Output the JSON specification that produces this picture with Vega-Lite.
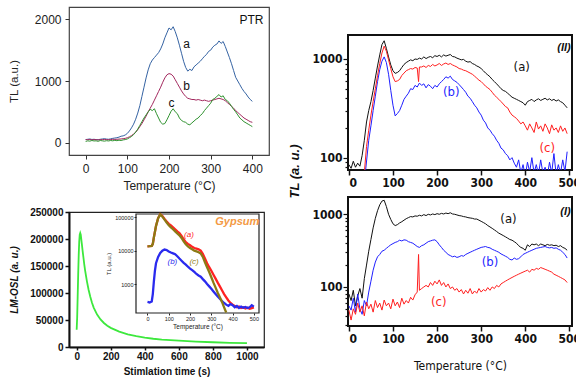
{
 "$schema": "https://vega.github.io/schema/vega-lite/v6.json",
 "background": "white",
 "padding": {"left": 7, "top": 6, "right": 0, "bottom": 0},
 "config": {
  "font": "Liberation Sans",
  "view": {"stroke": "#333", "strokeWidth": 1.2},
  "axis": {"grid": false, "domainColor": "#333", "tickColor": "#333", "labelColor": "#222", "titleColor": "#222"}
 },
 "datasets": {
  "tl": [
   {"s":"a","x":0,"y":50},{"s":"a","x":5,"y":55},{"s":"a","x":10,"y":60},{"s":"a","x":15,"y":52},{"s":"a","x":20,"y":55},{"s":"a","x":25,"y":50},{"s":"a","x":30,"y":48},{"s":"a","x":35,"y":55},{"s":"a","x":40,"y":60},{"s":"a","x":45,"y":65},{"s":"a","x":50,"y":58},{"s":"a","x":55,"y":55},{"s":"a","x":60,"y":62},{"s":"a","x":65,"y":70},{"s":"a","x":70,"y":75},{"s":"a","x":75,"y":80},{"s":"a","x":80,"y":90},{"s":"a","x":85,"y":105},{"s":"a","x":90,"y":110},{"s":"a","x":95,"y":125},{"s":"a","x":100,"y":150},{"s":"a","x":105,"y":190},{"s":"a","x":110,"y":240},{"s":"a","x":115,"y":300},{"s":"a","x":120,"y":380},{"s":"a","x":125,"y":480},{"s":"a","x":130,"y":600},{"s":"a","x":135,"y":750},{"s":"a","x":140,"y":900},{"s":"a","x":145,"y":1050},{"s":"a","x":150,"y":1180},{"s":"a","x":155,"y":1280},{"s":"a","x":160,"y":1340},{"s":"a","x":165,"y":1380},{"s":"a","x":170,"y":1420},{"s":"a","x":175,"y":1460},{"s":"a","x":180,"y":1520},{"s":"a","x":185,"y":1600},{"s":"a","x":190,"y":1700},{"s":"a","x":195,"y":1780},{"s":"a","x":200,"y":1860},{"s":"a","x":205,"y":1830},{"s":"a","x":210,"y":1880},{"s":"a","x":215,"y":1800},{"s":"a","x":220,"y":1700},{"s":"a","x":225,"y":1580},{"s":"a","x":230,"y":1450},{"s":"a","x":235,"y":1320},{"s":"a","x":240,"y":1220},{"s":"a","x":245,"y":1160},{"s":"a","x":250,"y":1190},{"s":"a","x":255,"y":1170},{"s":"a","x":260,"y":1230},{"s":"a","x":265,"y":1260},{"s":"a","x":270,"y":1290},{"s":"a","x":275,"y":1320},{"s":"a","x":280,"y":1360},{"s":"a","x":285,"y":1400},{"s":"a","x":290,"y":1430},{"s":"a","x":295,"y":1480},{"s":"a","x":300,"y":1500},{"s":"a","x":305,"y":1550},{"s":"a","x":310,"y":1580},{"s":"a","x":315,"y":1600},{"s":"a","x":320,"y":1650},{"s":"a","x":325,"y":1610},{"s":"a","x":330,"y":1640},{"s":"a","x":335,"y":1560},{"s":"a","x":340,"y":1470},{"s":"a","x":345,"y":1380},{"s":"a","x":350,"y":1280},{"s":"a","x":355,"y":1170},{"s":"a","x":360,"y":1060},{"s":"a","x":365,"y":1000},{"s":"a","x":370,"y":940},{"s":"a","x":375,"y":880},{"s":"a","x":380,"y":830},{"s":"a","x":385,"y":790},{"s":"a","x":390,"y":740},{"s":"a","x":395,"y":700},{"s":"a","x":400,"y":670},
   {"s":"b","x":0,"y":50},{"s":"b","x":5,"y":48},{"s":"b","x":10,"y":52},{"s":"b","x":15,"y":45},{"s":"b","x":20,"y":50},{"s":"b","x":25,"y":48},{"s":"b","x":30,"y":45},{"s":"b","x":35,"y":50},{"s":"b","x":40,"y":48},{"s":"b","x":45,"y":52},{"s":"b","x":50,"y":50},{"s":"b","x":55,"y":48},{"s":"b","x":60,"y":50},{"s":"b","x":65,"y":55},{"s":"b","x":70,"y":52},{"s":"b","x":75,"y":55},{"s":"b","x":80,"y":58},{"s":"b","x":85,"y":60},{"s":"b","x":90,"y":65},{"s":"b","x":95,"y":70},{"s":"b","x":100,"y":80},{"s":"b","x":105,"y":95},{"s":"b","x":110,"y":115},{"s":"b","x":115,"y":140},{"s":"b","x":120,"y":170},{"s":"b","x":125,"y":210},{"s":"b","x":130,"y":260},{"s":"b","x":135,"y":310},{"s":"b","x":140,"y":370},{"s":"b","x":145,"y":430},{"s":"b","x":150,"y":500},{"s":"b","x":155,"y":560},{"s":"b","x":160,"y":620},{"s":"b","x":165,"y":690},{"s":"b","x":170,"y":760},{"s":"b","x":175,"y":830},{"s":"b","x":180,"y":900},{"s":"b","x":185,"y":980},{"s":"b","x":190,"y":1050},{"s":"b","x":195,"y":1100},{"s":"b","x":200,"y":1120},{"s":"b","x":205,"y":1110},{"s":"b","x":210,"y":1080},{"s":"b","x":215,"y":1020},{"s":"b","x":220,"y":960},{"s":"b","x":225,"y":900},{"s":"b","x":230,"y":840},{"s":"b","x":235,"y":790},{"s":"b","x":240,"y":750},{"s":"b","x":245,"y":720},{"s":"b","x":250,"y":710},{"s":"b","x":255,"y":700},{"s":"b","x":260,"y":700},{"s":"b","x":265,"y":690},{"s":"b","x":270,"y":700},{"s":"b","x":275,"y":690},{"s":"b","x":280,"y":680},{"s":"b","x":285,"y":690},{"s":"b","x":290,"y":680},{"s":"b","x":295,"y":670},{"s":"b","x":300,"y":680},{"s":"b","x":305,"y":690},{"s":"b","x":310,"y":700},{"s":"b","x":315,"y":710},{"s":"b","x":320,"y":720},{"s":"b","x":325,"y":710},{"s":"b","x":330,"y":700},{"s":"b","x":335,"y":680},{"s":"b","x":340,"y":650},{"s":"b","x":345,"y":620},{"s":"b","x":350,"y":590},{"s":"b","x":355,"y":560},{"s":"b","x":360,"y":520},{"s":"b","x":365,"y":490},{"s":"b","x":370,"y":460},{"s":"b","x":375,"y":430},{"s":"b","x":380,"y":400},{"s":"b","x":385,"y":380},{"s":"b","x":390,"y":360},{"s":"b","x":395,"y":340},{"s":"b","x":400,"y":330},
   {"s":"c","x":0,"y":20},{"s":"c","x":5,"y":30},{"s":"c","x":10,"y":25},{"s":"c","x":15,"y":35},{"s":"c","x":20,"y":28},{"s":"c","x":25,"y":30},{"s":"c","x":30,"y":22},{"s":"c","x":35,"y":35},{"s":"c","x":40,"y":30},{"s":"c","x":45,"y":25},{"s":"c","x":50,"y":32},{"s":"c","x":55,"y":28},{"s":"c","x":60,"y":35},{"s":"c","x":65,"y":30},{"s":"c","x":70,"y":38},{"s":"c","x":75,"y":32},{"s":"c","x":80,"y":40},{"s":"c","x":85,"y":35},{"s":"c","x":90,"y":45},{"s":"c","x":95,"y":50},{"s":"c","x":100,"y":60},{"s":"c","x":105,"y":80},{"s":"c","x":110,"y":100},{"s":"c","x":115,"y":130},{"s":"c","x":120,"y":170},{"s":"c","x":125,"y":220},{"s":"c","x":130,"y":280},{"s":"c","x":135,"y":340},{"s":"c","x":140,"y":400},{"s":"c","x":145,"y":450},{"s":"c","x":150,"y":500},{"s":"c","x":155,"y":540},{"s":"c","x":160,"y":520},{"s":"c","x":165,"y":550},{"s":"c","x":170,"y":470},{"s":"c","x":175,"y":400},{"s":"c","x":180,"y":330},{"s":"c","x":185,"y":300},{"s":"c","x":190,"y":310},{"s":"c","x":195,"y":370},{"s":"c","x":200,"y":440},{"s":"c","x":205,"y":510},{"s":"c","x":210,"y":550},{"s":"c","x":215,"y":500},{"s":"c","x":220,"y":470},{"s":"c","x":225,"y":400},{"s":"c","x":230,"y":360},{"s":"c","x":235,"y":340},{"s":"c","x":240,"y":330},{"s":"c","x":245,"y":300},{"s":"c","x":250,"y":290},{"s":"c","x":255,"y":320},{"s":"c","x":260,"y":350},{"s":"c","x":265,"y":380},{"s":"c","x":270,"y":400},{"s":"c","x":275,"y":440},{"s":"c","x":280,"y":470},{"s":"c","x":285,"y":520},{"s":"c","x":290,"y":560},{"s":"c","x":295,"y":600},{"s":"c","x":300,"y":640},{"s":"c","x":305,"y":700},{"s":"c","x":310,"y":720},{"s":"c","x":315,"y":750},{"s":"c","x":320,"y":780},{"s":"c","x":325,"y":740},{"s":"c","x":330,"y":760},{"s":"c","x":335,"y":700},{"s":"c","x":340,"y":680},{"s":"c","x":345,"y":640},{"s":"c","x":350,"y":590},{"s":"c","x":355,"y":540},{"s":"c","x":360,"y":500},{"s":"c","x":365,"y":450},{"s":"c","x":370,"y":400},{"s":"c","x":375,"y":370},{"s":"c","x":380,"y":340},{"s":"c","x":385,"y":320},{"s":"c","x":390,"y":300},{"s":"c","x":395,"y":280},{"s":"c","x":400,"y":260}
  ],
  "tlLab": [{"t":"a","x":242,"y":1600},{"t":"b","x":242,"y":918},{"t":"c","x":206,"y":643}],
  "osl": [
   {"t":0,"v":32000},{"t":3,"v":55000},{"t":6,"v":95000},{"t":9,"v":135000},{"t":12,"v":170000},{"t":15,"v":195000},{"t":18,"v":208000},{"t":21,"v":211000},{"t":24,"v":208000},{"t":27,"v":200000},{"t":30,"v":192000},{"t":35,"v":178000},{"t":40,"v":165000},{"t":45,"v":152000},{"t":50,"v":141000},{"t":60,"v":122000},{"t":70,"v":106000},{"t":80,"v":93000},{"t":90,"v":82000},{"t":100,"v":73000},{"t":120,"v":60000},{"t":140,"v":51000},{"t":160,"v":44500},{"t":180,"v":39500},{"t":200,"v":35500},{"t":250,"v":28500},{"t":300,"v":23500},{"t":350,"v":20000},{"t":400,"v":17200},{"t":450,"v":15300},{"t":500,"v":13800},{"t":600,"v":11700},{"t":700,"v":10000},{"t":800,"v":8800},{"t":900,"v":7800},{"t":1000,"v":7000}
  ],
  "gyp": [
   {"s":"a","x":0,"y":13500},{"s":"a","x":10,"y":13600},{"s":"a","x":20,"y":13800},{"s":"a","x":25,"y":16000},{"s":"a","x":30,"y":25000},{"s":"a","x":40,"y":55000},{"s":"a","x":50,"y":95000},{"s":"a","x":60,"y":124000},{"s":"a","x":70,"y":110000},{"s":"a","x":80,"y":90000},{"s":"a","x":90,"y":75000},{"s":"a","x":100,"y":64000},{"s":"a","x":110,"y":57000},{"s":"a","x":120,"y":50000},{"s":"a","x":130,"y":44000},{"s":"a","x":140,"y":38000},{"s":"a","x":150,"y":34000},{"s":"a","x":160,"y":28000},{"s":"a","x":170,"y":22000},{"s":"a","x":180,"y":18000},{"s":"a","x":190,"y":16000},{"s":"a","x":200,"y":14500},{"s":"a","x":210,"y":13000},{"s":"a","x":220,"y":12000},{"s":"a","x":230,"y":11500},{"s":"a","x":240,"y":11000},{"s":"a","x":250,"y":10000},{"s":"a","x":260,"y":8000},{"s":"a","x":270,"y":5800},{"s":"a","x":280,"y":4200},{"s":"a","x":290,"y":3200},{"s":"a","x":300,"y":2500},{"s":"a","x":310,"y":1900},{"s":"a","x":320,"y":1450},{"s":"a","x":330,"y":1100},{"s":"a","x":340,"y":850},{"s":"a","x":350,"y":650},{"s":"a","x":360,"y":500},{"s":"a","x":370,"y":400},{"s":"a","x":380,"y":320},{"s":"a","x":390,"y":270},{"s":"a","x":400,"y":240},{"s":"a","x":410,"y":220},{"s":"a","x":420,"y":200},{"s":"a","x":430,"y":210},{"s":"a","x":440,"y":190},{"s":"a","x":450,"y":200},{"s":"a","x":460,"y":185},{"s":"a","x":470,"y":195},{"s":"a","x":480,"y":180},{"s":"a","x":490,"y":190},{"s":"a","x":500,"y":200},
   {"s":"b","x":0,"y":290},{"s":"b","x":10,"y":280},{"s":"b","x":20,"y":300},{"s":"b","x":25,"y":500},{"s":"b","x":30,"y":1200},{"s":"b","x":35,"y":2500},{"s":"b","x":40,"y":4200},{"s":"b","x":50,"y":6500},{"s":"b","x":60,"y":8500},{"s":"b","x":70,"y":10000},{"s":"b","x":80,"y":10800},{"s":"b","x":90,"y":10500},{"s":"b","x":100,"y":9500},{"s":"b","x":110,"y":8800},{"s":"b","x":120,"y":8300},{"s":"b","x":130,"y":7800},{"s":"b","x":140,"y":6800},{"s":"b","x":150,"y":5800},{"s":"b","x":160,"y":5000},{"s":"b","x":170,"y":4300},{"s":"b","x":180,"y":3800},{"s":"b","x":190,"y":3300},{"s":"b","x":200,"y":2900},{"s":"b","x":210,"y":2600},{"s":"b","x":220,"y":2300},{"s":"b","x":230,"y":2000},{"s":"b","x":240,"y":1800},{"s":"b","x":250,"y":1650},{"s":"b","x":260,"y":1400},{"s":"b","x":270,"y":1200},{"s":"b","x":280,"y":1000},{"s":"b","x":290,"y":850},{"s":"b","x":300,"y":720},{"s":"b","x":310,"y":600},{"s":"b","x":320,"y":500},{"s":"b","x":330,"y":420},{"s":"b","x":340,"y":360},{"s":"b","x":350,"y":310},{"s":"b","x":360,"y":270},{"s":"b","x":370,"y":240},{"s":"b","x":380,"y":220},{"s":"b","x":390,"y":250},{"s":"b","x":400,"y":230},{"s":"b","x":410,"y":200},{"s":"b","x":420,"y":220},{"s":"b","x":430,"y":190},{"s":"b","x":440,"y":210},{"s":"b","x":450,"y":195},{"s":"b","x":460,"y":205},{"s":"b","x":470,"y":190},{"s":"b","x":480,"y":200},{"s":"b","x":490,"y":230},{"s":"b","x":500,"y":210},
   {"s":"c","x":0,"y":13500},{"s":"c","x":10,"y":13600},{"s":"c","x":20,"y":13800},{"s":"c","x":25,"y":16000},{"s":"c","x":30,"y":25000},{"s":"c","x":40,"y":55000},{"s":"c","x":50,"y":95000},{"s":"c","x":60,"y":122000},{"s":"c","x":70,"y":105000},{"s":"c","x":80,"y":85000},{"s":"c","x":90,"y":70000},{"s":"c","x":100,"y":58000},{"s":"c","x":110,"y":50000},{"s":"c","x":120,"y":44000},{"s":"c","x":130,"y":38000},{"s":"c","x":140,"y":33000},{"s":"c","x":150,"y":29000},{"s":"c","x":160,"y":24000},{"s":"c","x":170,"y":19000},{"s":"c","x":180,"y":15500},{"s":"c","x":190,"y":13500},{"s":"c","x":200,"y":12000},{"s":"c","x":210,"y":11000},{"s":"c","x":220,"y":10000},{"s":"c","x":230,"y":9500},{"s":"c","x":240,"y":9000},{"s":"c","x":250,"y":8300},{"s":"c","x":260,"y":6500},{"s":"c","x":270,"y":4500},{"s":"c","x":280,"y":3200},{"s":"c","x":290,"y":2300},{"s":"c","x":300,"y":1600},{"s":"c","x":310,"y":1100},{"s":"c","x":320,"y":780},{"s":"c","x":330,"y":550},{"s":"c","x":340,"y":400},{"s":"c","x":350,"y":290},{"s":"c","x":360,"y":200},{"s":"c","x":370,"y":140}
  ],
  "gypLab": [{"t":"(a)","s":"a","x":195,"y":29500},{"t":"(b)","s":"b","x":117,"y":4700},{"t":"(c)","s":"c","x":219,"y":4700}],
  "r2": [
   {"s":"a","x":0,"y":85},{"s":"a","x":5,"y":78},{"s":"a","x":10,"y":92},{"s":"a","x":15,"y":80},{"s":"a","x":20,"y":88},{"s":"a","x":25,"y":82},{"s":"a","x":30,"y":105},{"s":"a","x":35,"y":150},{"s":"a","x":40,"y":230},{"s":"a","x":45,"y":300},{"s":"a","x":50,"y":370},{"s":"a","x":55,"y":480},{"s":"a","x":60,"y":640},{"s":"a","x":65,"y":850},{"s":"a","x":70,"y":1100},{"s":"a","x":75,"y":1400},{"s":"a","x":80,"y":1530},{"s":"a","x":85,"y":1280},{"s":"a","x":90,"y":1050},{"s":"a","x":95,"y":870},{"s":"a","x":100,"y":760},{"s":"a","x":105,"y":715},{"s":"a","x":110,"y":730},{"s":"a","x":115,"y":760},{"s":"a","x":120,"y":820},{"s":"a","x":125,"y":880},{"s":"a","x":130,"y":920},{"s":"a","x":135,"y":950},{"s":"a","x":140,"y":980},{"s":"a","x":145,"y":960},{"s":"a","x":150,"y":1000},{"s":"a","x":155,"y":990},{"s":"a","x":160,"y":1020},{"s":"a","x":165,"y":1000},{"s":"a","x":170,"y":1050},{"s":"a","x":175,"y":1010},{"s":"a","x":180,"y":1040},{"s":"a","x":185,"y":1060},{"s":"a","x":190,"y":1030},{"s":"a","x":195,"y":1080},{"s":"a","x":200,"y":1060},{"s":"a","x":205,"y":1090},{"s":"a","x":210,"y":1050},{"s":"a","x":215,"y":1100},{"s":"a","x":220,"y":1070},{"s":"a","x":225,"y":1090},{"s":"a","x":230,"y":1110},{"s":"a","x":235,"y":1060},{"s":"a","x":240,"y":1050},{"s":"a","x":245,"y":1020},{"s":"a","x":250,"y":1000},{"s":"a","x":255,"y":980},{"s":"a","x":260,"y":990},{"s":"a","x":265,"y":950},{"s":"a","x":270,"y":930},{"s":"a","x":275,"y":940},{"s":"a","x":280,"y":900},{"s":"a","x":285,"y":880},{"s":"a","x":290,"y":850},{"s":"a","x":295,"y":830},{"s":"a","x":300,"y":800},{"s":"a","x":305,"y":760},{"s":"a","x":310,"y":720},{"s":"a","x":315,"y":690},{"s":"a","x":320,"y":660},{"s":"a","x":325,"y":620},{"s":"a","x":330,"y":590},{"s":"a","x":335,"y":560},{"s":"a","x":340,"y":530},{"s":"a","x":345,"y":500},{"s":"a","x":350,"y":480},{"s":"a","x":355,"y":470},{"s":"a","x":360,"y":450},{"s":"a","x":365,"y":430},{"s":"a","x":370,"y":410},{"s":"a","x":375,"y":400},{"s":"a","x":380,"y":390},{"s":"a","x":385,"y":380},{"s":"a","x":390,"y":370},{"s":"a","x":395,"y":360},{"s":"a","x":400,"y":340},{"s":"a","x":405,"y":370},{"s":"a","x":410,"y":380},{"s":"a","x":415,"y":390},{"s":"a","x":420,"y":370},{"s":"a","x":425,"y":385},{"s":"a","x":430,"y":395},{"s":"a","x":435,"y":380},{"s":"a","x":440,"y":390},{"s":"a","x":445,"y":400},{"s":"a","x":450,"y":385},{"s":"a","x":455,"y":395},{"s":"a","x":460,"y":380},{"s":"a","x":465,"y":390},{"s":"a","x":470,"y":375},{"s":"a","x":475,"y":385},{"s":"a","x":480,"y":370},{"s":"a","x":485,"y":360},{"s":"a","x":490,"y":340},{"s":"a","x":495,"y":320},
   {"s":"b","x":38,"y":75},{"s":"b","x":45,"y":150},{"s":"b","x":50,"y":210},{"s":"b","x":55,"y":300},{"s":"b","x":60,"y":420},{"s":"b","x":65,"y":590},{"s":"b","x":70,"y":780},{"s":"b","x":75,"y":950},{"s":"b","x":80,"y":1050},{"s":"b","x":85,"y":920},{"s":"b","x":90,"y":700},{"s":"b","x":95,"y":480},{"s":"b","x":100,"y":340},{"s":"b","x":105,"y":265},{"s":"b","x":110,"y":280},{"s":"b","x":115,"y":300},{"s":"b","x":120,"y":340},{"s":"b","x":125,"y":390},{"s":"b","x":130,"y":420},{"s":"b","x":135,"y":450},{"s":"b","x":140,"y":500},{"s":"b","x":145,"y":490},{"s":"b","x":150,"y":540},{"s":"b","x":155,"y":520},{"s":"b","x":160,"y":570},{"s":"b","x":165,"y":540},{"s":"b","x":170,"y":560},{"s":"b","x":175,"y":510},{"s":"b","x":180,"y":550},{"s":"b","x":185,"y":530},{"s":"b","x":190,"y":500},{"s":"b","x":195,"y":540},{"s":"b","x":200,"y":520},{"s":"b","x":205,"y":560},{"s":"b","x":210,"y":590},{"s":"b","x":215,"y":620},{"s":"b","x":220,"y":660},{"s":"b","x":225,"y":640},{"s":"b","x":230,"y":670},{"s":"b","x":235,"y":620},{"s":"b","x":240,"y":600},{"s":"b","x":245,"y":580},{"s":"b","x":250,"y":550},{"s":"b","x":255,"y":520},{"s":"b","x":260,"y":490},{"s":"b","x":265,"y":460},{"s":"b","x":270,"y":420},{"s":"b","x":275,"y":400},{"s":"b","x":280,"y":370},{"s":"b","x":285,"y":340},{"s":"b","x":290,"y":320},{"s":"b","x":295,"y":290},{"s":"b","x":300,"y":270},{"s":"b","x":305,"y":240},{"s":"b","x":310,"y":225},{"s":"b","x":315,"y":200},{"s":"b","x":320,"y":190},{"s":"b","x":325,"y":175},{"s":"b","x":330,"y":165},{"s":"b","x":335,"y":150},{"s":"b","x":340,"y":140},{"s":"b","x":345,"y":125},{"s":"b","x":350,"y":120},{"s":"b","x":355,"y":110},{"s":"b","x":360,"y":105},{"s":"b","x":365,"y":95},{"s":"b","x":370,"y":100},{"s":"b","x":375,"y":88},{"s":"b","x":380,"y":80},{"s":"b","x":385,"y":95},{"s":"b","x":390,"y":70},{"s":"b","x":395,"y":85},{"s":"b","x":400,"y":65},{"s":"b","x":405,"y":90},{"s":"b","x":410,"y":72},{"s":"b","x":415,"y":100},{"s":"b","x":420,"y":70},{"s":"b","x":425,"y":85},{"s":"b","x":430,"y":68},{"s":"b","x":435,"y":95},{"s":"b","x":440,"y":70},{"s":"b","x":445,"y":80},{"s":"b","x":450,"y":65},{"s":"b","x":455,"y":90},{"s":"b","x":460,"y":70},{"s":"b","x":465,"y":110},{"s":"b","x":470,"y":68},{"s":"b","x":475,"y":85},{"s":"b","x":480,"y":70},{"s":"b","x":485,"y":95},{"s":"b","x":490,"y":72},{"s":"b","x":495,"y":115},
   {"s":"c","x":35,"y":70},{"s":"c","x":40,"y":130},{"s":"c","x":45,"y":190},{"s":"c","x":50,"y":270},{"s":"c","x":55,"y":370},{"s":"c","x":60,"y":500},{"s":"c","x":65,"y":680},{"s":"c","x":70,"y":900},{"s":"c","x":75,"y":1150},{"s":"c","x":80,"y":1350},{"s":"c","x":85,"y":1200},{"s":"c","x":90,"y":980},{"s":"c","x":95,"y":800},{"s":"c","x":100,"y":660},{"s":"c","x":105,"y":590},{"s":"c","x":110,"y":600},{"s":"c","x":115,"y":620},{"s":"c","x":120,"y":680},{"s":"c","x":125,"y":720},{"s":"c","x":130,"y":760},{"s":"c","x":135,"y":780},{"s":"c","x":140,"y":800},{"s":"c","x":145,"y":790},{"s":"c","x":150,"y":820},{"s":"c","x":155,"y":810},{"s":"c","x":158,"y":590},{"s":"c","x":160,"y":830},{"s":"c","x":165,"y":830},{"s":"c","x":170,"y":850},{"s":"c","x":175,"y":820},{"s":"c","x":180,"y":860},{"s":"c","x":185,"y":840},{"s":"c","x":190,"y":880},{"s":"c","x":195,"y":850},{"s":"c","x":200,"y":870},{"s":"c","x":205,"y":900},{"s":"c","x":210,"y":860},{"s":"c","x":215,"y":890},{"s":"c","x":220,"y":910},{"s":"c","x":225,"y":880},{"s":"c","x":230,"y":900},{"s":"c","x":235,"y":870},{"s":"c","x":240,"y":850},{"s":"c","x":245,"y":830},{"s":"c","x":250,"y":800},{"s":"c","x":255,"y":790},{"s":"c","x":260,"y":770},{"s":"c","x":265,"y":760},{"s":"c","x":270,"y":740},{"s":"c","x":275,"y":720},{"s":"c","x":280,"y":700},{"s":"c","x":285,"y":670},{"s":"c","x":290,"y":640},{"s":"c","x":295,"y":610},{"s":"c","x":300,"y":590},{"s":"c","x":305,"y":560},{"s":"c","x":310,"y":530},{"s":"c","x":315,"y":510},{"s":"c","x":320,"y":490},{"s":"c","x":325,"y":460},{"s":"c","x":330,"y":430},{"s":"c","x":335,"y":410},{"s":"c","x":340,"y":390},{"s":"c","x":345,"y":370},{"s":"c","x":350,"y":350},{"s":"c","x":355,"y":330},{"s":"c","x":360,"y":320},{"s":"c","x":365,"y":290},{"s":"c","x":370,"y":270},{"s":"c","x":375,"y":260},{"s":"c","x":380,"y":250},{"s":"c","x":385,"y":235},{"s":"c","x":390,"y":220},{"s":"c","x":395,"y":230},{"s":"c","x":400,"y":210},{"s":"c","x":405,"y":190},{"s":"c","x":410,"y":220},{"s":"c","x":415,"y":200},{"s":"c","x":420,"y":180},{"s":"c","x":425,"y":230},{"s":"c","x":430,"y":195},{"s":"c","x":435,"y":210},{"s":"c","x":440,"y":185},{"s":"c","x":445,"y":220},{"s":"c","x":450,"y":200},{"s":"c","x":455,"y":175},{"s":"c","x":460,"y":215},{"s":"c","x":465,"y":190},{"s":"c","x":470,"y":200},{"s":"c","x":475,"y":180},{"s":"c","x":480,"y":210},{"s":"c","x":485,"y":185},{"s":"c","x":490,"y":200},{"s":"c","x":495,"y":175}
  ],
  "r2Lab": [{"t":"(a)","s":"a","x":392,"y":837},{"t":"(b)","s":"b","x":232,"y":462},{"t":"(c)","s":"c","x":450,"y":126}],
  "r1": [
   {"s":"a","x":0,"y":80},{"s":"a","x":5,"y":65},{"s":"a","x":10,"y":90},{"s":"a","x":15,"y":55},{"s":"a","x":20,"y":75},{"s":"a","x":25,"y":95},{"s":"a","x":30,"y":70},{"s":"a","x":35,"y":130},{"s":"a","x":40,"y":200},{"s":"a","x":45,"y":310},{"s":"a","x":50,"y":450},{"s":"a","x":55,"y":650},{"s":"a","x":60,"y":880},{"s":"a","x":65,"y":1120},{"s":"a","x":70,"y":1350},{"s":"a","x":75,"y":1520},{"s":"a","x":80,"y":1560},{"s":"a","x":85,"y":1280},{"s":"a","x":90,"y":1000},{"s":"a","x":95,"y":850},{"s":"a","x":100,"y":740},{"s":"a","x":105,"y":700},{"s":"a","x":110,"y":720},{"s":"a","x":115,"y":760},{"s":"a","x":120,"y":790},{"s":"a","x":125,"y":830},{"s":"a","x":130,"y":870},{"s":"a","x":135,"y":900},{"s":"a","x":140,"y":930},{"s":"a","x":145,"y":920},{"s":"a","x":150,"y":950},{"s":"a","x":155,"y":940},{"s":"a","x":160,"y":970},{"s":"a","x":165,"y":950},{"s":"a","x":170,"y":990},{"s":"a","x":175,"y":960},{"s":"a","x":180,"y":1000},{"s":"a","x":185,"y":980},{"s":"a","x":190,"y":1010},{"s":"a","x":195,"y":990},{"s":"a","x":200,"y":1020},{"s":"a","x":205,"y":1000},{"s":"a","x":210,"y":1030},{"s":"a","x":215,"y":1010},{"s":"a","x":220,"y":1040},{"s":"a","x":225,"y":1020},{"s":"a","x":230,"y":1050},{"s":"a","x":235,"y":1010},{"s":"a","x":240,"y":1000},{"s":"a","x":245,"y":980},{"s":"a","x":250,"y":960},{"s":"a","x":255,"y":950},{"s":"a","x":260,"y":930},{"s":"a","x":265,"y":920},{"s":"a","x":270,"y":900},{"s":"a","x":275,"y":890},{"s":"a","x":280,"y":880},{"s":"a","x":285,"y":860},{"s":"a","x":290,"y":860},{"s":"a","x":295,"y":830},{"s":"a","x":300,"y":800},{"s":"a","x":305,"y":770},{"s":"a","x":310,"y":740},{"s":"a","x":315,"y":700},{"s":"a","x":320,"y":670},{"s":"a","x":325,"y":640},{"s":"a","x":330,"y":610},{"s":"a","x":335,"y":580},{"s":"a","x":340,"y":550},{"s":"a","x":345,"y":530},{"s":"a","x":350,"y":510},{"s":"a","x":355,"y":490},{"s":"a","x":360,"y":470},{"s":"a","x":365,"y":450},{"s":"a","x":370,"y":440},{"s":"a","x":375,"y":420},{"s":"a","x":380,"y":400},{"s":"a","x":385,"y":370},{"s":"a","x":390,"y":350},{"s":"a","x":395,"y":340},{"s":"a","x":400,"y":320},{"s":"a","x":405,"y":380},{"s":"a","x":410,"y":360},{"s":"a","x":415,"y":390},{"s":"a","x":420,"y":380},{"s":"a","x":425,"y":390},{"s":"a","x":430,"y":370},{"s":"a","x":435,"y":390},{"s":"a","x":440,"y":380},{"s":"a","x":445,"y":370},{"s":"a","x":450,"y":385},{"s":"a","x":455,"y":375},{"s":"a","x":460,"y":380},{"s":"a","x":465,"y":370},{"s":"a","x":470,"y":375},{"s":"a","x":475,"y":360},{"s":"a","x":480,"y":370},{"s":"a","x":485,"y":350},{"s":"a","x":490,"y":340},{"s":"a","x":495,"y":320},
   {"s":"b","x":0,"y":55},{"s":"b","x":5,"y":48},{"s":"b","x":10,"y":70},{"s":"b","x":15,"y":45},{"s":"b","x":20,"y":80},{"s":"b","x":25,"y":50},{"s":"b","x":30,"y":42},{"s":"b","x":35,"y":65},{"s":"b","x":40,"y":55},{"s":"b","x":45,"y":85},{"s":"b","x":50,"y":120},{"s":"b","x":55,"y":170},{"s":"b","x":60,"y":220},{"s":"b","x":65,"y":260},{"s":"b","x":70,"y":280},{"s":"b","x":75,"y":310},{"s":"b","x":80,"y":320},{"s":"b","x":85,"y":340},{"s":"b","x":90,"y":360},{"s":"b","x":95,"y":380},{"s":"b","x":100,"y":395},{"s":"b","x":105,"y":410},{"s":"b","x":110,"y":420},{"s":"b","x":115,"y":440},{"s":"b","x":120,"y":430},{"s":"b","x":125,"y":445},{"s":"b","x":130,"y":440},{"s":"b","x":135,"y":420},{"s":"b","x":140,"y":410},{"s":"b","x":145,"y":400},{"s":"b","x":150,"y":380},{"s":"b","x":155,"y":360},{"s":"b","x":160,"y":350},{"s":"b","x":165,"y":370},{"s":"b","x":170,"y":380},{"s":"b","x":175,"y":400},{"s":"b","x":180,"y":420},{"s":"b","x":185,"y":430},{"s":"b","x":190,"y":440},{"s":"b","x":195,"y":445},{"s":"b","x":200,"y":420},{"s":"b","x":205,"y":380},{"s":"b","x":210,"y":350},{"s":"b","x":215,"y":320},{"s":"b","x":220,"y":300},{"s":"b","x":225,"y":280},{"s":"b","x":230,"y":270},{"s":"b","x":235,"y":260},{"s":"b","x":240,"y":265},{"s":"b","x":245,"y":255},{"s":"b","x":250,"y":260},{"s":"b","x":255,"y":270},{"s":"b","x":260,"y":265},{"s":"b","x":265,"y":280},{"s":"b","x":270,"y":290},{"s":"b","x":275,"y":300},{"s":"b","x":280,"y":310},{"s":"b","x":285,"y":320},{"s":"b","x":290,"y":330},{"s":"b","x":295,"y":340},{"s":"b","x":300,"y":350},{"s":"b","x":305,"y":355},{"s":"b","x":310,"y":360},{"s":"b","x":315,"y":350},{"s":"b","x":320,"y":345},{"s":"b","x":325,"y":330},{"s":"b","x":330,"y":320},{"s":"b","x":335,"y":310},{"s":"b","x":340,"y":300},{"s":"b","x":345,"y":285},{"s":"b","x":350,"y":275},{"s":"b","x":355,"y":265},{"s":"b","x":360,"y":255},{"s":"b","x":365,"y":240},{"s":"b","x":370,"y":235},{"s":"b","x":375,"y":250},{"s":"b","x":380,"y":240},{"s":"b","x":385,"y":245},{"s":"b","x":390,"y":260},{"s":"b","x":395,"y":280},{"s":"b","x":400,"y":290},{"s":"b","x":405,"y":300},{"s":"b","x":410,"y":310},{"s":"b","x":415,"y":320},{"s":"b","x":420,"y":330},{"s":"b","x":425,"y":340},{"s":"b","x":430,"y":345},{"s":"b","x":435,"y":350},{"s":"b","x":440,"y":355},{"s":"b","x":445,"y":360},{"s":"b","x":450,"y":350},{"s":"b","x":455,"y":345},{"s":"b","x":460,"y":350},{"s":"b","x":465,"y":340},{"s":"b","x":470,"y":345},{"s":"b","x":475,"y":330},{"s":"b","x":480,"y":320},{"s":"b","x":485,"y":300},{"s":"b","x":490,"y":280},{"s":"b","x":495,"y":250},
   {"s":"c","x":0,"y":48},{"s":"c","x":5,"y":35},{"s":"c","x":10,"y":50},{"s":"c","x":15,"y":42},{"s":"c","x":20,"y":60},{"s":"c","x":25,"y":45},{"s":"c","x":30,"y":55},{"s":"c","x":35,"y":40},{"s":"c","x":40,"y":62},{"s":"c","x":45,"y":50},{"s":"c","x":50,"y":58},{"s":"c","x":55,"y":45},{"s":"c","x":60,"y":65},{"s":"c","x":65,"y":52},{"s":"c","x":70,"y":60},{"s":"c","x":75,"y":48},{"s":"c","x":80,"y":66},{"s":"c","x":85,"y":55},{"s":"c","x":90,"y":60},{"s":"c","x":95,"y":50},{"s":"c","x":100,"y":68},{"s":"c","x":105,"y":55},{"s":"c","x":110,"y":62},{"s":"c","x":115,"y":52},{"s":"c","x":120,"y":70},{"s":"c","x":125,"y":58},{"s":"c","x":130,"y":65},{"s":"c","x":135,"y":60},{"s":"c","x":140,"y":72},{"s":"c","x":145,"y":66},{"s":"c","x":150,"y":78},{"s":"c","x":155,"y":85},{"s":"c","x":158,"y":280},{"s":"c","x":160,"y":90},{"s":"c","x":165,"y":95},{"s":"c","x":170,"y":100},{"s":"c","x":175,"y":105},{"s":"c","x":180,"y":100},{"s":"c","x":185,"y":115},{"s":"c","x":190,"y":105},{"s":"c","x":195,"y":120},{"s":"c","x":200,"y":110},{"s":"c","x":205,"y":125},{"s":"c","x":210,"y":105},{"s":"c","x":215,"y":115},{"s":"c","x":220,"y":100},{"s":"c","x":225,"y":110},{"s":"c","x":230,"y":95},{"s":"c","x":235,"y":100},{"s":"c","x":240,"y":90},{"s":"c","x":245,"y":95},{"s":"c","x":250,"y":85},{"s":"c","x":255,"y":92},{"s":"c","x":260,"y":80},{"s":"c","x":265,"y":90},{"s":"c","x":270,"y":82},{"s":"c","x":275,"y":95},{"s":"c","x":280,"y":80},{"s":"c","x":285,"y":88},{"s":"c","x":290,"y":82},{"s":"c","x":295,"y":95},{"s":"c","x":300,"y":85},{"s":"c","x":305,"y":92},{"s":"c","x":310,"y":88},{"s":"c","x":315,"y":98},{"s":"c","x":320,"y":90},{"s":"c","x":325,"y":100},{"s":"c","x":330,"y":95},{"s":"c","x":335,"y":105},{"s":"c","x":340,"y":100},{"s":"c","x":345,"y":110},{"s":"c","x":350,"y":115},{"s":"c","x":355,"y":120},{"s":"c","x":360,"y":125},{"s":"c","x":365,"y":130},{"s":"c","x":370,"y":135},{"s":"c","x":375,"y":140},{"s":"c","x":380,"y":145},{"s":"c","x":385,"y":150},{"s":"c","x":390,"y":155},{"s":"c","x":395,"y":160},{"s":"c","x":400,"y":165},{"s":"c","x":405,"y":170},{"s":"c","x":410,"y":160},{"s":"c","x":415,"y":175},{"s":"c","x":420,"y":170},{"s":"c","x":425,"y":180},{"s":"c","x":430,"y":175},{"s":"c","x":435,"y":185},{"s":"c","x":440,"y":180},{"s":"c","x":445,"y":175},{"s":"c","x":450,"y":170},{"s":"c","x":455,"y":165},{"s":"c","x":460,"y":160},{"s":"c","x":465,"y":150},{"s":"c","x":470,"y":145},{"s":"c","x":475,"y":140},{"s":"c","x":480,"y":135},{"s":"c","x":485,"y":130},{"s":"c","x":490,"y":125},{"s":"c","x":495,"y":115}
  ],
  "r1Lab": [{"t":"(a)","s":"a","x":362,"y":872},{"t":"(b)","s":"b","x":320,"y":221},{"t":"(c)","s":"c","x":204,"y":62}]
 },
 "spacing": 17,
 "resolve": {"scale": {"color": "independent"}},
 "hconcat": [
  {
   "spacing": 57,
   "bounds": "flush",
   "resolve": {"scale": {"color": "independent"}},
   "vconcat": [
    {
     "width": 200, "height": 148,
     "view": {"stroke": "#444", "strokeWidth": 1.2},
     "layer": [
      {
       "data": {"name": "tl"},
       "mark": {"type": "line", "strokeWidth": 1, "clip": true},
       "encoding": {
        "x": {"field": "x", "type": "quantitative", "scale": {"domain": [-40, 440], "nice": false, "zero": false},
              "axis": {"values": [0, 100, 200, 300, 400], "title": "Temperature (°C)", "domain": false, "labelFontSize": 12, "titleFontSize": 12, "titleFontWeight": "normal", "tickSize": 4, "labelPadding": 4, "titlePadding": 6}},
        "y": {"field": "y", "type": "quantitative", "scale": {"domain": [-200, 2200], "nice": false, "zero": false},
              "axis": {"values": [0, 500, 1000, 1500, 2000], "format": "d", "title": "TL (a.u.)", "domain": false, "labelFontSize": 12, "titleFontSize": 11.5, "titleFontWeight": "normal", "tickSize": 4, "labelPadding": 4, "titlePadding": 15}},
        "color": {"field": "s", "type": "nominal", "scale": {"domain": ["a", "b", "c"], "range": ["#3563a3", "#a3285e", "#2f922f"]}, "legend": null}
       }
      },
      {
       "data": {"name": "tlLab"},
       "mark": {"type": "text", "fontSize": 12, "color": "#111"},
       "encoding": {"x": {"field": "x", "type": "quantitative"}, "y": {"field": "y", "type": "quantitative"}, "text": {"field": "t"}}
      },
      {
       "data": {"values": [{"t": "PTR", "x": 398, "y": 1990}]},
       "mark": {"type": "text", "fontSize": 12, "color": "#111"},
       "encoding": {"x": {"field": "x", "type": "quantitative"}, "y": {"field": "y", "type": "quantitative"}, "text": {"field": "t"}}
      }
     ]
    },
    {
     "width": 195, "height": 135,
     "view": {"stroke": "#222", "strokeWidth": 1.2},
     "layer": [
      {
       "data": {"name": "osl"},
       "mark": {"type": "line", "color": "#3de83d", "strokeWidth": 1.8},
       "encoding": {
        "x": {"field": "t", "type": "quantitative", "scale": {"domain": [-45, 1100], "nice": false, "zero": false},
              "axis": {"values": [0, 200, 400, 600, 800, 1000], "format": "d", "title": "Stimlation time (s)", "domainColor": "#111", "domainWidth": 2, "tickColor": "#111", "tickWidth": 1.5, "tickSize": 3, "labelPadding": 1, "labelFontSize": 10, "labelFontWeight": "bold", "labelColor": "#111", "titleFontSize": 10, "titleFontWeight": "bold", "titleColor": "#111", "titlePadding": 5}},
        "y": {"field": "v", "type": "quantitative", "scale": {"domain": [0, 250000], "nice": false},
              "axis": {"values": [0, 50000, 100000, 150000, 200000, 250000], "format": "d", "title": "LM-OSL (a. u.)", "domainColor": "#111", "domainWidth": 2, "tickColor": "#111", "tickWidth": 1.5, "tickSize": 4, "labelPadding": 2, "labelFontSize": 10, "labelFontWeight": "bold", "labelColor": "#111", "titleFontSize": 10, "titleFontWeight": "bold", "titleFontStyle": "italic", "titleColor": "#111", "titlePadding": 10}}
       }
      },
      {
       "layer": [
        {
         "data": {"values": [{}]},
         "mark": {"type": "rect", "fill": "white", "stroke": "#222", "strokeWidth": 1.2},
         "encoding": {
          "x": {"datum": -54, "type": "quantitative", "scale": {"domain": [-54, 524], "range": [67, 190], "nice": false, "zero": false},
                "axis": {"orient": "bottom", "offset": -34, "zindex": 2, "values": [0, 100, 200, 300, 400, 500], "labelOverlap": false, "title": "Temperature (°C)", "domain": false, "tickSize": 2, "tickColor": "#222", "labelFontSize": 5.5, "labelPadding": 1, "titleFontSize": 6.5, "titleFontWeight": "normal", "titlePadding": 2}},
          "x2": {"datum": 524},
          "y": {"datum": 135, "type": "quantitative", "scale": {"type": "log", "domain": [135, 126000], "range": [101, 2], "nice": false},
                "axis": {"orient": "left", "offset": -67, "zindex": 2, "values": [1000, 10000, 100000], "labelOverlap": false, "format": "d", "title": "TL (a.u.)", "domain": false, "tickSize": 2, "tickColor": "#222", "labelFontSize": 5.5, "labelPadding": 1, "titleFontSize": 6, "titleFontWeight": "normal", "titlePadding": 3}},
          "y2": {"datum": 126000}
         }
        },
        {
         "data": {"name": "gyp"},
         "mark": {"type": "line", "strokeWidth": 2.3},
         "encoding": {
          "x": {"field": "x", "type": "quantitative",
                "axis": {"orient": "bottom", "offset": -34, "zindex": 2, "values": [0, 100, 200, 300, 400, 500], "labelOverlap": false, "title": "Temperature (°C)", "domain": false, "tickSize": 2, "tickColor": "#222", "labelFontSize": 5.5, "labelPadding": 1, "titleFontSize": 6.5, "titleFontWeight": "normal", "titlePadding": 2}},
          "y": {"field": "y", "type": "quantitative",
                "axis": {"orient": "left", "offset": -67, "zindex": 2, "values": [1000, 10000, 100000], "labelOverlap": false, "format": "d", "title": "TL (a.u.)", "domain": false, "tickSize": 2, "tickColor": "#222", "labelFontSize": 5.5, "labelPadding": 1, "titleFontSize": 6, "titleFontWeight": "normal", "titlePadding": 3}},
          "color": {"field": "s", "type": "nominal", "scale": {"domain": ["a", "b", "c"], "range": ["#ff2222", "#2a2aee", "#8c7a14"]}, "legend": null}
         }
        },
        {
         "data": {"name": "gypLab"},
         "mark": {"type": "text", "fontSize": 8, "fontStyle": "italic"},
         "encoding": {
          "x": {"field": "x", "type": "quantitative",
                "axis": {"orient": "bottom", "offset": -34, "zindex": 2, "values": [0, 100, 200, 300, 400, 500], "labelOverlap": false, "title": "Temperature (°C)", "domain": false, "tickSize": 2, "tickColor": "#222", "labelFontSize": 5.5, "labelPadding": 1, "titleFontSize": 6.5, "titleFontWeight": "normal", "titlePadding": 2}},
          "y": {"field": "y", "type": "quantitative",
                "axis": {"orient": "left", "offset": -67, "zindex": 2, "values": [1000, 10000, 100000], "labelOverlap": false, "format": "d", "title": "TL (a.u.)", "domain": false, "tickSize": 2, "tickColor": "#222", "labelFontSize": 5.5, "labelPadding": 1, "titleFontSize": 6, "titleFontWeight": "normal", "titlePadding": 3}},
          "text": {"field": "t"},
          "color": {"field": "s", "type": "nominal", "scale": {"domain": ["a", "b", "c"], "range": ["#ff2222", "#2a2aee", "#8c7a14"]}, "legend": null}
         }
        },
        {
         "data": {"values": [{"t": "Gypsum", "x": 422, "y": 74000}]},
         "mark": {"type": "text", "fontSize": 11, "fontWeight": "bold", "fontStyle": "italic", "color": "#f39a45"},
         "encoding": {
          "x": {"field": "x", "type": "quantitative",
                "axis": {"orient": "bottom", "offset": -34, "zindex": 2, "values": [0, 100, 200, 300, 400, 500], "labelOverlap": false, "title": "Temperature (°C)", "domain": false, "tickSize": 2, "tickColor": "#222", "labelFontSize": 5.5, "labelPadding": 1, "titleFontSize": 6.5, "titleFontWeight": "normal", "titlePadding": 2}},
          "y": {"field": "y", "type": "quantitative",
                "axis": {"orient": "left", "offset": -67, "zindex": 2, "values": [1000, 10000, 100000], "labelOverlap": false, "format": "d", "title": "TL (a.u.)", "domain": false, "tickSize": 2, "tickColor": "#222", "labelFontSize": 5.5, "labelPadding": 1, "titleFontSize": 6, "titleFontWeight": "normal", "titlePadding": 3}},
          "text": {"field": "t"}
         }
        }
       ]
      }
     ],
     "resolve": {"scale": {"x": "independent", "y": "independent", "color": "independent"}, "axis": {"x": "independent", "y": "independent"}}
    }
   ]
  },
  {
   "spacing": 27,
   "bounds": "flush",
   "resolve": {"scale": {"color": "independent"}},
   "vconcat": [
    {
     "width": 224, "height": 1,
     "view": {"stroke": null},
     "data": {"values": []},
     "mark": {"type": "point", "opacity": 0}
    },
    {
     "width": 224, "height": 135,
     "view": {"stroke": "#111", "strokeWidth": 2},
     "layer": [
      {
       "data": {"name": "r2"},
       "mark": {"type": "line", "strokeWidth": 1, "clip": true},
       "encoding": {
        "x": {"field": "x", "type": "quantitative", "scale": {"domain": [-2, 506], "nice": false, "zero": false},
              "axis": {"values": [0, 50, 100, 150, 200, 250, 300, 350, 400, 450, 500], "labelExpr": "datum.value % 100 == 0 ? datum.label : ''", "title": null, "domain": false, "tickColor": "#111", "tickWidth": 1.5, "tickSize": {"condition": {"test": "datum.value % 100 == 0", "value": 5}, "value": 3}, "labelFont": "Liberation Sans Narrow, DejaVu Sans Condensed, sans-serif", "labelFontWeight": "bold", "labelFontSize": 12, "labelColor": "#111", "labelPadding": 2}},
        "y": {"field": "y", "type": "quantitative", "scale": {"type": "log", "domain": [75, 1750], "nice": false},
              "axis": {"values": [80, 90, 100, 200, 300, 400, 500, 600, 700, 800, 900, 1000], "labelExpr": "datum.value == 100 || datum.value == 1000 ? datum.label : ''", "format": "d", "title": "TL (a. u.)", "titleX": -47, "titleY": 136, "titleFontSize": 13, "titleFontWeight": "bold", "titleFontStyle": "italic", "titleColor": "#111", "domain": false, "tickColor": "#111", "tickWidth": 1.2, "tickSize": {"condition": {"test": "datum.value == 100 || datum.value == 1000", "value": 5}, "value": 3}, "labelFont": "Liberation Sans Narrow, DejaVu Sans Condensed, sans-serif", "labelFontWeight": "bold", "labelFontSize": 12, "labelColor": "#111", "labelPadding": 1}},
        "color": {"field": "s", "type": "nominal", "scale": {"domain": ["a", "b", "c"], "range": ["#111111", "#1f1fff", "#ff1f1f"]}, "legend": null}
       }
      },
      {
       "data": {"name": "r2Lab"},
       "mark": {"type": "text", "fontSize": 13, "font": "Liberation Sans Narrow, DejaVu Sans Condensed, sans-serif"},
       "encoding": {"x": {"field": "x", "type": "quantitative"}, "y": {"field": "y", "type": "quantitative"}, "text": {"field": "t"},
        "color": {"field": "s", "type": "nominal", "scale": {"domain": ["a", "b", "c"], "range": ["#111111", "#1f1fff", "#ff1f1f"]}, "legend": null}}
      },
      {
       "data": {"values": [{"t": "(II)", "x": 503, "y": 1280}]},
       "mark": {"type": "text", "fontSize": 11, "fontWeight": "bold", "fontStyle": "italic", "align": "right", "color": "#111"},
       "encoding": {"x": {"field": "x", "type": "quantitative"}, "y": {"field": "y", "type": "quantitative"}, "text": {"field": "t"}}
      }
     ]
    },
    {
     "width": 224, "height": 129,
     "view": {"stroke": "#111", "strokeWidth": 2},
     "layer": [
      {
       "data": {"name": "r1"},
       "mark": {"type": "line", "strokeWidth": 1, "clip": true},
       "encoding": {
        "x": {"field": "x", "type": "quantitative", "scale": {"domain": [-2, 506], "nice": false, "zero": false},
              "axis": {"values": [0, 50, 100, 150, 200, 250, 300, 350, 400, 450, 500], "labelExpr": "datum.value % 100 == 0 ? datum.label : ''", "title": "Temperature (°C)", "titleFont": "Liberation Sans Narrow, DejaVu Sans Condensed, sans-serif", "titleFontSize": 12, "titleFontWeight": "normal", "titleColor": "#111", "titlePadding": 16, "domain": false, "tickColor": "#111", "tickWidth": 1.5, "tickSize": {"condition": {"test": "datum.value % 100 == 0", "value": 5}, "value": 3}, "labelFont": "Liberation Sans Narrow, DejaVu Sans Condensed, sans-serif", "labelFontWeight": "bold", "labelFontSize": 12, "labelColor": "#111", "labelPadding": 2}},
        "y": {"field": "y", "type": "quantitative", "scale": {"type": "log", "domain": [29, 1730], "nice": false},
              "axis": {"values": [30, 40, 50, 60, 70, 80, 90, 100, 200, 300, 400, 500, 600, 700, 800, 900, 1000], "labelExpr": "datum.value == 100 || datum.value == 1000 ? datum.label : ''", "format": "d", "title": null, "domain": false, "tickColor": "#111", "tickWidth": 1.2, "tickSize": {"condition": {"test": "datum.value == 100 || datum.value == 1000", "value": 5}, "value": 3}, "labelFont": "Liberation Sans Narrow, DejaVu Sans Condensed, sans-serif", "labelFontWeight": "bold", "labelFontSize": 12, "labelColor": "#111", "labelPadding": 1}},
        "color": {"field": "s", "type": "nominal", "scale": {"domain": ["a", "b", "c"], "range": ["#111111", "#1f1fff", "#ff1f1f"]}, "legend": null}
       }
      },
      {
       "data": {"name": "r1Lab"},
       "mark": {"type": "text", "fontSize": 13, "font": "Liberation Sans Narrow, DejaVu Sans Condensed, sans-serif"},
       "encoding": {"x": {"field": "x", "type": "quantitative"}, "y": {"field": "y", "type": "quantitative"}, "text": {"field": "t"},
        "color": {"field": "s", "type": "nominal", "scale": {"domain": ["a", "b", "c"], "range": ["#111111", "#1f1fff", "#ff1f1f"]}, "legend": null}}
      },
      {
       "data": {"values": [{"t": "(I)", "x": 503, "y": 1076}]},
       "mark": {"type": "text", "fontSize": 11, "fontWeight": "bold", "fontStyle": "italic", "align": "right", "color": "#111"},
       "encoding": {"x": {"field": "x", "type": "quantitative"}, "y": {"field": "y", "type": "quantitative"}, "text": {"field": "t"}}
      }
     ]
    }
   ]
  }
 ]
}
